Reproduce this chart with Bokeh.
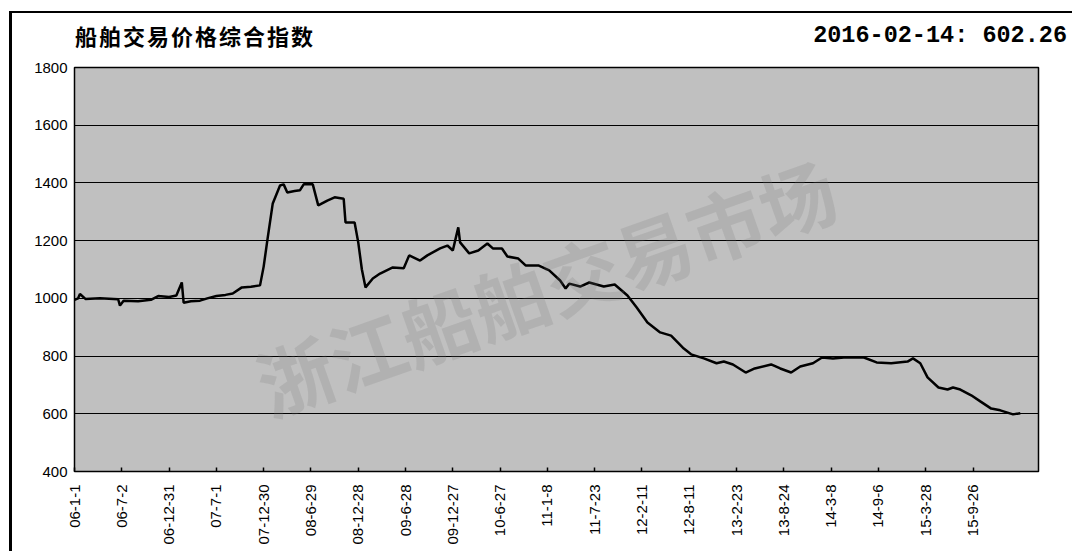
import math
from bokeh.plotting import figure
from bokeh.layouts import column
from bokeh.models import Label, FixedTicker, Div
from bokeh.embed import file_html
from bokeh.resources import INLINE

# ---- data (week index, index value) ----
weeks = [0, 2, 3, 6, 14, 24, 25, 27, 35, 42, 46, 52, 56, 59, 60, 64, 69, 73, 78, 83, 87, 92,
         97, 102, 104, 106, 109, 113, 115, 117, 121, 124, 126, 131, 134, 139, 143, 148, 149,
         154, 156, 158, 160, 164, 168, 175, 181, 184, 190, 194, 201, 205, 208, 211, 212, 217,
         222, 227, 230, 235, 238, 244, 248, 255, 261, 267, 270, 272, 278, 283, 291, 297, 304,
         309, 315, 322, 328, 335, 339, 346, 353, 357, 362, 369, 374, 383, 388, 394, 399, 406,
         411, 417, 423, 434, 441, 449, 458, 461, 465, 469, 475, 480, 483, 487, 493, 498, 504,
         509, 516, 520]
values = [995, 1000, 1015, 998, 1000, 997, 975, 992, 990, 995, 1008, 1005, 1010, 1055, 985,
          990, 992, 1000, 1008, 1012, 1017, 1038, 1040, 1045, 1110, 1200, 1329, 1391, 1395,
          1367, 1372, 1375, 1395, 1395, 1322, 1339, 1350, 1345, 1263, 1263, 1194, 1100, 1038,
          1069, 1086, 1107, 1104, 1149, 1131, 1149, 1173, 1183, 1166, 1246, 1194, 1156, 1166,
          1190, 1173, 1173, 1145, 1138, 1114, 1114, 1097, 1062, 1034, 1051, 1041, 1055, 1041,
          1048, 1010, 969, 916, 882, 871, 826, 806, 792, 775, 781, 771, 743, 757, 771, 757,
          743, 764, 775, 795, 792, 795, 795, 778, 775, 781, 792, 775, 726, 691, 684, 691, 684,
          664, 643, 618, 612, 598, 602]

tick_labels = ["06-1-1", "06-7-2", "06-12-31", "07-7-1", "07-12-30", "08-6-29", "08-12-28",
               "09-6-28", "09-12-27", "10-6-27", "11-1-8", "11-7-23", "12-2-11", "12-8-11",
               "13-2-23", "13-8-24", "14-3-8", "14-9-6", "15-3-28", "15-9-26"]
tick_step = 26
tick_pos = [i * tick_step for i in range(len(tick_labels))]

title_text = "船舶交易价格综合指数"
latest_text = "2016-02-14: 602.26"
watermark = "浙江船舶交易市场"

W = 1060

# ---- header with the two texts ----
header_html = (
    '<div style="display:flex;justify-content:space-between;align-items:center;'
    'width:1060px;height:44px;box-sizing:border-box;padding:2px 5px 0 63px;">'
    '<span style="font-family:\'Noto Sans CJK SC\';font-weight:bold;font-size:22px;'
    'letter-spacing:2px;color:black;">' + title_text + '</span>'
    '<span style="font-family:\'Liberation Mono\';font-weight:bold;font-size:23.5px;'
    'color:black;white-space:pre;">' + latest_text + '</span>'
    '</div>'
)
header = Div(text=header_html, width=W, height=44, margin=(0, 0, 0, 0))

# ---- main chart ----
p = figure(width=W, height=494, output_backend="svg", toolbar_location=None,
           x_range=(0, 530), y_range=(400, 1800),
           min_border_left=62, min_border_right=34, min_border_top=10, min_border_bottom=80)

p.background_fill_color = "#c0c0c0"
p.border_fill_color = "white"
p.outline_line_color = "black"
p.outline_line_width = 1.5

p.xgrid.grid_line_color = None
p.ygrid.grid_line_color = "black"
p.ygrid.grid_line_width = 1.2
p.yaxis.ticker = FixedTicker(ticks=[400, 600, 800, 1000, 1200, 1400, 1600, 1800])
p.xaxis.ticker = FixedTicker(ticks=tick_pos)
p.xaxis.major_label_overrides = {pos: lab for pos, lab in zip(tick_pos, tick_labels)}
p.xaxis.major_label_orientation = math.pi / 2
p.xaxis.minor_tick_line_color = None
p.yaxis.minor_tick_line_color = None
p.xaxis.major_tick_in = 4
p.xaxis.major_tick_out = 0
p.xaxis.major_tick_line_color = "black"
p.xaxis.major_tick_line_width = 1.5
p.yaxis.major_tick_line_color = None
p.yaxis.major_tick_in = 0
p.yaxis.major_tick_out = 0
p.xaxis.axis_line_color = None
p.yaxis.axis_line_color = None
for ax in (p.xaxis, p.yaxis):
    ax.major_label_text_font = "Liberation Sans"
    ax.major_label_text_font_size = "15px"
    ax.major_label_text_color = "black"
p.xaxis.major_label_standoff = 13
p.yaxis.major_label_standoff = 7

# faint watermark
p.add_layout(Label(x=259, y=1045, text=watermark, text_font="Noto Sans CJK SC",
                   text_font_style="bold", text_font_size="76px", text_color="#7a7a7a",
                   text_alpha=0.2, angle=0.34, text_align="center", text_baseline="middle"))

p.line(weeks, values, line_color="black", line_width=2.5)

layout = column(header, p, spacing=0)
layout.styles = {"border-left": "3px solid black", "border-top": "2px solid black",
                 "margin-left": "9px", "margin-top": "11px"}

open("out.html", "w").write(file_html(layout, INLINE))
